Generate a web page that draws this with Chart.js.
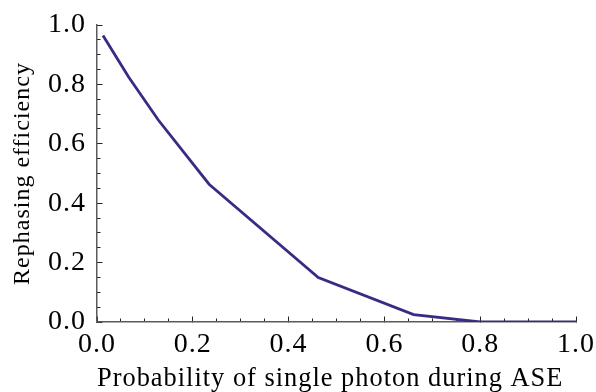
<!DOCTYPE html>
<html>
<head>
<meta charset="utf-8">
<script src="https://cdn.jsdelivr.net/npm/chart.js@4.4.0/dist/chart.umd.min.js"></script>
<style>
  html, body { margin: 0; padding: 0; background: #ffffff; }
  #wrap { width: 596px; height: 392px; position: relative; }
</style>
</head>
<body>
<div id="wrap"><canvas id="c" width="596" height="392"></canvas></div>
<script>
// Data
const probabilityValues = [0.0125, 0.066, 0.128, 0.234, 0.462, 0.661, 0.80, 1.0];
const efficiencyValues  = [0.965, 0.825, 0.68, 0.464, 0.150, 0.025, 0.0, 0.0];
const xTickValues = [0.0, 0.2, 0.4, 0.6, 0.8, 1.0];
const yTickValues = [0.0, 0.2, 0.4, 0.6, 0.8, 1.0];
const xTitle = 'Probability of single photon during ASE';
const yTitle = 'Rephasing efficiency';

const points = probabilityValues.map((x, i) => ({ x: x, y: efficiencyValues[i] }));

const FONT = "'Liberation Serif', 'Times New Roman', serif";
const AXIS_GRAY = '#5a5a5a';
const TICK_COLOR = '#222222';

const spacingPlugin = {
  id: 'spacing',
  beforeDraw(chart) { try { chart.ctx.letterSpacing = '1px'; } catch (e) {} },
  afterDraw(chart) { try { chart.ctx.letterSpacing = '0px'; } catch (e) {} }
};

function noPad(scale) {
  scale.paddingLeft = 0; scale.paddingRight = 0;
  scale.paddingTop = 0; scale.paddingBottom = 0;
}

new Chart(document.getElementById('c'), {
  type: 'line',
  data: {
    datasets: [{
      data: points,
      borderColor: '#3b2a85',
      borderWidth: 2.8,
      pointRadius: 0,
      tension: 0,
      fill: false,
      xAxisID: 'x',
      yAxisID: 'y'
    }]
  },
  options: {
    responsive: false,
    animation: false,
    devicePixelRatio: 1,
    layout: { padding: { top: 25, right: 20, left: 0, bottom: 0 } },
    plugins: { legend: { display: false }, tooltip: { enabled: false } },
    scales: {
      x: {
        type: 'linear', position: 'bottom', weight: 1,
        min: 0, max: 1,
        afterBuildTicks(scale) { scale.ticks = xTickValues.map(v => ({ value: v })); },
        afterFit(scale) { scale.height = 70; noPad(scale); },
        grid: { drawOnChartArea: false, drawTicks: true, tickLength: -5.5, tickColor: TICK_COLOR, tickWidth: 1 },
        border: { display: true, color: AXIS_GRAY, width: 1.5 },
        ticks: {
          autoSkip: false, maxRotation: 0, padding: 14,
          color: '#000', font: { family: FONT, size: 28, lineHeight: 1 },
          callback: (v) => Number(v).toFixed(1)
        },
        title: {
          display: true, text: xTitle, color: '#000', align: 'start',
          font: { family: FONT, size: 26.4, lineHeight: 1 },
          padding: { top: 0, bottom: 0 }
        }
      },
      xMinor: {
        type: 'linear', position: 'bottom', weight: 0,
        min: 0, max: 1,
        afterBuildTicks(scale) {
          const t = [];
          for (let i = 0; i <= 20; i++) t.push({ value: i / 20 });
          scale.ticks = t;
        },
        afterFit(scale) { scale.height = 0; noPad(scale); },
        grid: { drawOnChartArea: false, drawTicks: true, tickLength: -3.5, tickColor: TICK_COLOR, tickWidth: 1 },
        border: { display: false },
        ticks: { autoSkip: false, maxRotation: 0, padding: 0, font: { size: 1 }, callback: () => '' }
      },
      y: {
        type: 'linear', position: 'left', weight: 1,
        min: 0, max: 1,
        afterBuildTicks(scale) { scale.ticks = yTickValues.map(v => ({ value: v })); },
        afterFit(scale) { scale.width = 97; noPad(scale); },
        grid: { drawOnChartArea: false, drawTicks: true, tickLength: -5.5, tickColor: TICK_COLOR, tickWidth: 1 },
        border: { display: true, color: AXIS_GRAY, width: 1.5 },
        ticks: {
          autoSkip: false, padding: 16.5,
          color: '#000', font: { family: FONT, size: 28, lineHeight: 1 },
          callback: (v) => Number(v).toFixed(1)
        },
        title: {
          display: true, text: yTitle, color: '#000',
          font: { family: FONT, size: 24, lineHeight: 1 },
          padding: { top: 11, bottom: 0 }
        }
      },
      yMinor: {
        type: 'linear', position: 'left', weight: 0,
        min: 0, max: 1,
        afterBuildTicks(scale) {
          const t = [];
          for (let i = 0; i <= 20; i++) t.push({ value: i / 20 });
          scale.ticks = t;
        },
        afterFit(scale) { scale.width = 0; noPad(scale); },
        grid: { drawOnChartArea: false, drawTicks: true, tickLength: -3.5, tickColor: TICK_COLOR, tickWidth: 1 },
        border: { display: false },
        ticks: { autoSkip: false, padding: 0, font: { size: 1 }, callback: () => '' }
      }
    }
  },
  plugins: [spacingPlugin]
});
</script>
</body>
</html>
